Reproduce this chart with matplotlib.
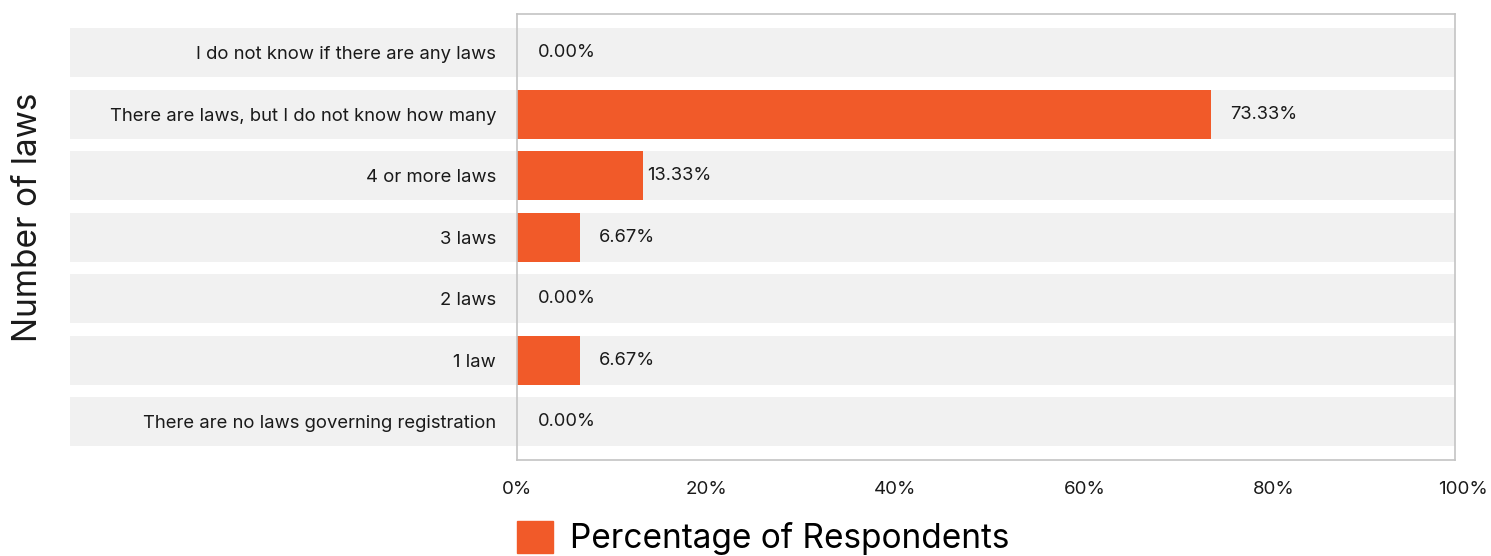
import matplotlib
matplotlib.use('Agg')
import matplotlib.pyplot as plt
import matplotlib.patches as mpatches
from matplotlib.transforms import blended_transform_factory

# Survey answers, top to bottom
categories = [
    'I do not know if there are any laws',
    'There are laws, but I do not know how many',
    '4 or more laws',
    '3 laws',
    '2 laws',
    '1 law',
    'There are no laws governing registration',
]
percentages = [0.00, 73.33, 13.33, 6.67, 0.00, 6.67, 0.00]
xticks = [0, 20, 40, 60, 80, 100]

BAR_COLOR = '#F15A29'
BAND_COLOR = '#F1F1F1'
FRAME_COLOR = '#C4C4C4'
TEXT_COLOR = '#1a1a1a'

plt.rcParams['font.family'] = ['Inter', 'DejaVu Sans']

W, H, DPI = 1491, 556, 100
fig = plt.figure(figsize=(W / DPI, H / DPI), dpi=DPI)
# the value scale runs a little past the drawn frame on the right
ax = fig.add_axes([517 / W, 1 - 460 / H, 946 / W, 446 / H])
frame_right = 938 / 946

ypos = list(range(len(categories)))
band_h = 0.8

# background bands run under the labels too
trans = blended_transform_factory(ax.transAxes, ax.transData)
band_left = (70 - 517) / 946
for y in ypos:
    ax.add_patch(mpatches.Rectangle((band_left, y - band_h / 2), frame_right - band_left, band_h,
                                    transform=trans, facecolor=BAND_COLOR,
                                    edgecolor='none', clip_on=False, zorder=0))

ax.barh(ypos, percentages, height=band_h, color=BAR_COLOR, zorder=2)

# value labels (pixel offset from bar end)
offsets = [21, 19, 4, 19, 21, 19, 21]
for y, v, off in zip(ypos, percentages, offsets):
    ax.annotate(f'{v:.2f}%', (v, y), xytext=(off, 0), textcoords='offset pixels',
                ha='left', va='center', fontsize=13.2, color=TEXT_COLOR, zorder=3)

ax.set_xlim(0, 100)
ax.set_ylim(len(categories) - 1 + 0.62, -0.63)
ax.set_xticks(xticks)
ax.set_xticklabels([f'{t}%' for t in xticks], fontsize=13.5, color=TEXT_COLOR)
ax.set_yticks(ypos)
ax.set_yticklabels(categories, fontsize=13.3, color=TEXT_COLOR)
ax.tick_params(axis='both', length=0)
ax.tick_params(axis='x', pad=15)
ax.tick_params(axis='y', pad=15)

# frame: left/top/bottom spines cut at the frame edge, plus a right edge line
ax.spines['right'].set_visible(False)
for name in ('left', 'top', 'bottom'):
    ax.spines[name].set_color(FRAME_COLOR)
    ax.spines[name].set_linewidth(1.2)
ax.spines['top'].set_bounds(0, 100 * frame_right)
ax.spines['bottom'].set_bounds(0, 100 * frame_right)
ax.plot([frame_right, frame_right], [0, 1], transform=ax.transAxes,
        color=FRAME_COLOR, linewidth=1.2, clip_on=False, zorder=4)
ax.set_facecolor('white')

fig.text(28 / W, 1 - 217 / H, 'Number of laws', rotation=90, ha='center', va='center',
         fontsize=24, color=TEXT_COLOR)

handle = mpatches.Patch(color=BAR_COLOR, label='Percentage of Respondents')
fig.legend(handles=[handle], loc='center left',
           bbox_to_anchor=(517 / W, 1 - 538 / H), frameon=False,
           fontsize=24, handlelength=1.08, handleheight=1.08, handletextpad=0.5,
           borderpad=0, borderaxespad=0)

fig.savefig('out.png', dpi=DPI, facecolor='white')
